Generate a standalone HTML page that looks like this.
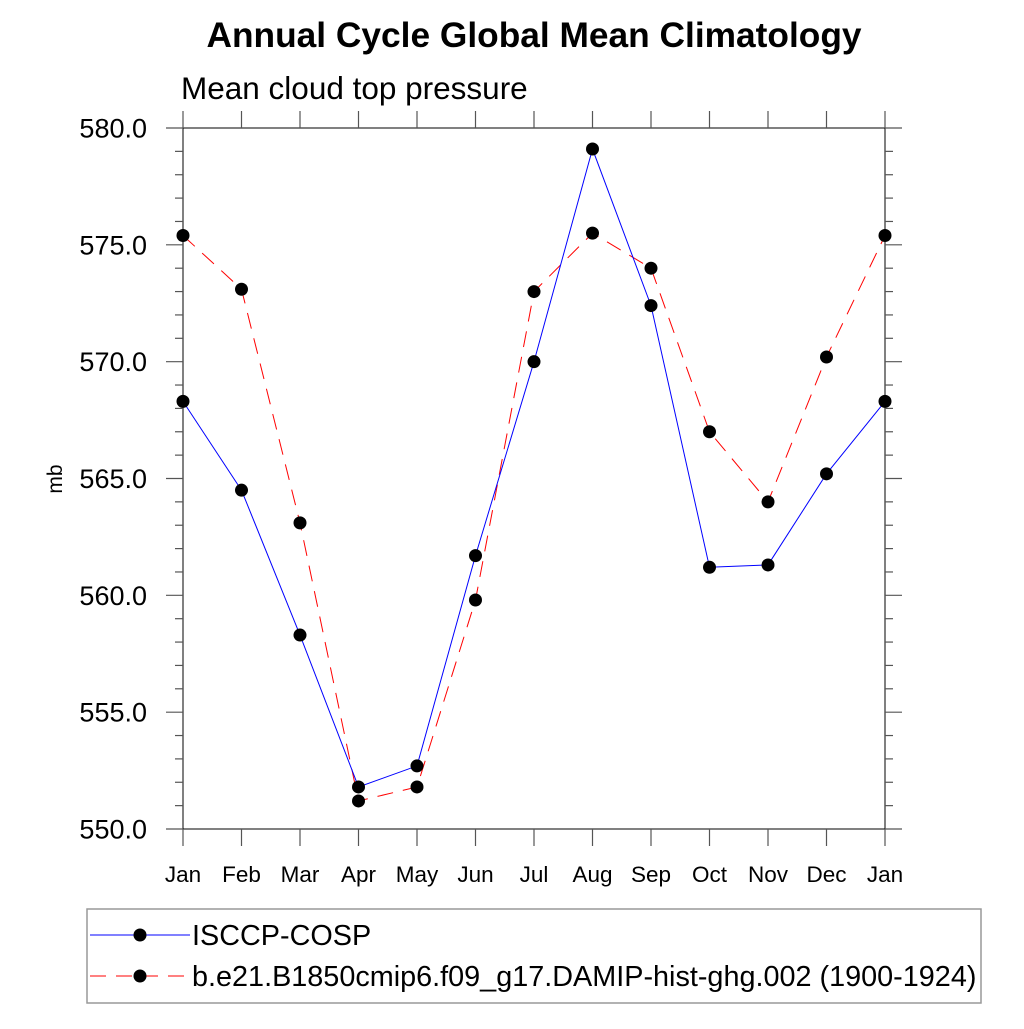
<!DOCTYPE html>
<html><head><meta charset="utf-8"><style>
body{margin:0;background:#fff}
svg text{font-family:"Liberation Sans",Arial,sans-serif}
</style></head><body>
<svg id="c" width="1024" height="1024" viewBox="0 0 1024 1024">
<text x="534" y="47" text-anchor="middle" font-size="35.3" font-weight="bold">Annual Cycle Global Mean Climatology</text>
<text x="181" y="99" font-size="31.5">Mean cloud top pressure</text>
<text transform="translate(62,479) rotate(-90)" text-anchor="middle" font-size="21">mb</text>
<g id="axes"></g>
<g id="series"></g>
<rect x="87" y="909" width="894" height="94" fill="none" stroke="#999" stroke-width="1.5"/>
<g>
<line x1="90" y1="935" x2="190" y2="935" stroke="#00f" stroke-width="1"/>
<circle cx="140" cy="935" r="6.5" fill="#000"/>
<text x="192" y="945" font-size="28.8">ISCCP-COSP</text>
</g>
<g>
<line x1="90" y1="976" x2="190" y2="976" stroke="#f00" stroke-width="1" stroke-dasharray="16,10"/>
<circle cx="140" cy="976" r="6.5" fill="#000"/>
<text x="192" y="986" font-size="28.8">b.e21.B1850cmip6.f09_g17.DAMIP-hist-ghg.002 (1900-1924)</text>
</g>
</svg>
<script>
const months=["Jan","Feb","Mar","Apr","May","Jun","Jul","Aug","Sep","Oct","Nov","Dec","Jan"];
const isccp=[568.3,564.5,558.3,551.8,552.7,561.7,570.0,579.1,572.4,561.2,561.3,565.2,568.3];
const model=[575.4,573.1,563.1,551.2,551.8,559.8,573.0,575.5,574.0,567.0,564.0,570.2,575.4];
const yTicks=["550.0","555.0","560.0","565.0","570.0","575.0","580.0"];
const L=183,R=885,T=128,B=829,Y0=550,Y1=580;
const xs=i=>L+(R-L)*i/(months.length-1);
const ys=v=>B-(B-T)*(v-Y0)/(Y1-Y0);
const NS="http://www.w3.org/2000/svg";
function mk(tag,attrs,parent){const e=document.createElementNS(NS,tag);for(const k in attrs)e.setAttribute(k,attrs[k]);parent.appendChild(e);return e;}
const ax=document.getElementById('axes'),se=document.getElementById('series');
let f=mk('rect',{x:L,y:T,width:R-L,height:B-T,fill:'none',stroke:'#000','stroke-width':1},ax);


for(let v=Y0;v<=Y1;v++){const y=ys(v),maj=(v%5===0);const len=maj?17:8;
 mk('line',{x1:L-len,y1:y,x2:L,y2:y,stroke:'#555','stroke-width':1.2},ax);
 mk('line',{x1:R,y1:y,x2:R+len,y2:y,stroke:'#555','stroke-width':1.2},ax);}
yTicks.forEach(t=>{const el=mk('text',{x:147,y:ys(+t)+9.5,'text-anchor':'end','font-size':27},ax);el.textContent=t;
 
 });
months.forEach((m,i)=>{const x=xs(i);
 mk('line',{x1:x,y1:B,x2:x,y2:B+17,stroke:'#555','stroke-width':1.2},ax);
 mk('line',{x1:x,y1:T-17,x2:x,y2:T,stroke:'#555','stroke-width':1.2},ax);
 const el=mk('text',{x:x,y:882,'text-anchor':'middle','font-size':22.5},ax);el.textContent=m;
 
 });
function draw(vals,color,dash,name){
 const p=mk('polyline',{points:vals.map((v,i)=>xs(i)+','+ys(v)).join(' '),fill:'none',stroke:color,'stroke-width':1,'stroke-dasharray':dash},se);
 
 
 vals.forEach((v,i)=>{const c=mk('circle',{cx:xs(i),cy:ys(v),r:6.5,fill:'#000'},se);
  
  });
}
draw(model,'#f00','16,10','model');
draw(isccp,'#00f','none','isccp');
</script>
</body></html>
